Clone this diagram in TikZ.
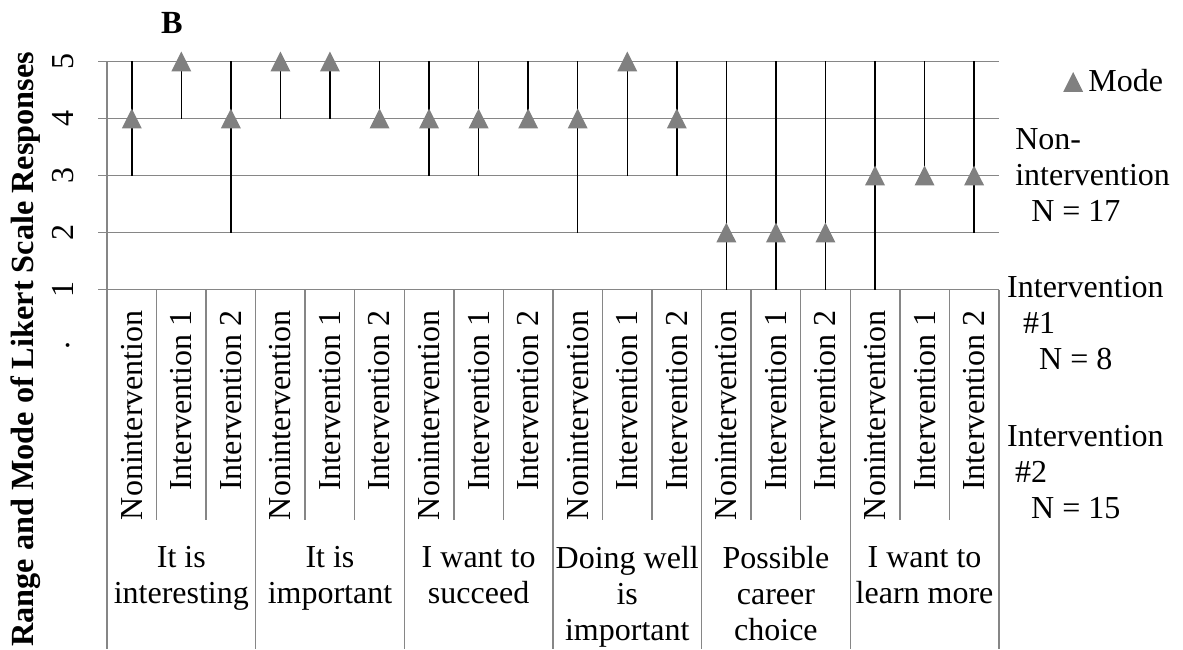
\documentclass[tikz,border=0pt]{standalone}
\usepackage{fontspec}
\setmainfont{Liberation Serif}
\usetikzlibrary{positioning}

\definecolor{gridgray}{RGB}{134,134,134}
\definecolor{markgray}{RGB}{128,128,128}

\tikzset{
  gridline/.style={draw=gridgray, line width=1.1pt},
  sepline/.style={draw=gridgray, line width=1.1pt},
  stem/.style={draw=black, line width=1.1pt},
  modemark/.style={fill=markgray},
  lbl/.style={font=\fontsize{24}{27}\selectfont, inner sep=0pt},
  boldlbl/.style={lbl, font=\fontsize{24.2}{27}\selectfont\bfseries},
  sublabel/.style={lbl, rotate=90, anchor=east},
  % multi-line nodes: base = baseline of the last line
  grouplabel/.style={lbl, align=center, anchor=base},
  legtext/.style={lbl, align=left, anchor=base west},
}

\begin{document}
\begin{tikzpicture}[x=37.16pt, y=42.75pt]
  \useasboundingbox (-2.1595,-5.307) rectangle (21.716,6.079);

  % Gridlines and value ticks
  \foreach \v in {1,...,5} {
    \draw[gridline] (-0.18,\v) -- (18,\v);
    \node[lbl, rotate=90] (tick\v) at (-0.888,\v) {\v};
  }
  \node[lbl, rotate=90] (dot) at (-0.787,0.026) {.};

  % Axis and category separators
  \draw[sepline] (0,5) -- (0,-5.307);
  \foreach \g in {1,...,6} \draw[sepline] (3*\g,1) -- (3*\g,-5.307);
  \foreach \c in {1,2,4,5,7,8,10,11,13,14,16,17} \draw[sepline] (\c,1) -- (\c,-3.044);

  % Ranges (low/high) and modes
  \foreach \i/\lo/\hi/\md in {1/3/5/4, 2/4/5/5, 3/2/5/4, 4/4/5/5, 5/4/5/5, 6/4/5/4,
      7/3/5/4, 8/3/5/4, 9/4/5/4, 10/2/5/4, 11/3/5/5, 12/3/5/4,
      13/1/5/2, 14/1/5/2, 15/1/5/2, 16/1/5/3, 17/3/5/3, 18/2/5/3} {
    \draw[stem] (\i-0.5,\lo) -- (\i-0.5,\hi);
    \fill[modemark] (\i-0.702,\md-0.175) -- (\i-0.298,\md-0.175) -- (\i-0.5,\md+0.175) -- cycle;
  }

  % Group rows
  \foreach \g in {0,...,5} {
    \node[sublabel] (non\g) at (3*\g+0.5,0.64) {Nonintervention};
    \node[sublabel] (ione\g) at (3*\g+1.5,0.64) {Intervention 1};
    \node[sublabel] (itwo\g) at (3*\g+2.5,0.64) {Intervention 2};
  }

  % Item labels
  \node[grouplabel] (interesting) at (1.5,-4.5) {It is\\interesting};
  \node[grouplabel] (important) at (4.5,-4.5) {It is\\important};
  \node[grouplabel] (succeed) at (7.5,-4.5) {I want to\\succeed};
  \node[grouplabel] (doingwell) at (10.5,-5.149) {Doing well\\is\\important};
  \node[grouplabel] (career) at (13.5,-5.149) {Possible\\career\\choice};
  \node[grouplabel] (learnmore) at (16.5,-4.5) {I want to\\learn more};

  % Titles
  \node[boldlbl] (title) at (1.312,5.684) {B};
  \node[boldlbl, rotate=90] (ytitle) at (-1.645,-0.049) {Range and Mode of Likert Scale Responses};

  % Legend
  \fill[modemark] (19.298,4.465) -- (19.702,4.465) -- (19.5,4.815) -- cycle;
  \node[lbl, anchor=base west] (mode) at (19.8,4.482) {Mode};
  \node[legtext] (nonint) at (18.325,2.193) {Non-\\intervention\\\hspace*{0.5em}N = 17};
  \node[legtext] (intone) at (18.163,-0.412) {Intervention\\\hspace*{0.5em}\#1\\\hspace*{1em}N = 8};
  \node[legtext] (inttwo) at (18.163,-3.009) {Intervention\\\hspace*{0.25em}\#2\\\hspace*{0.75em}N = 15};
\end{tikzpicture}
\end{document}
